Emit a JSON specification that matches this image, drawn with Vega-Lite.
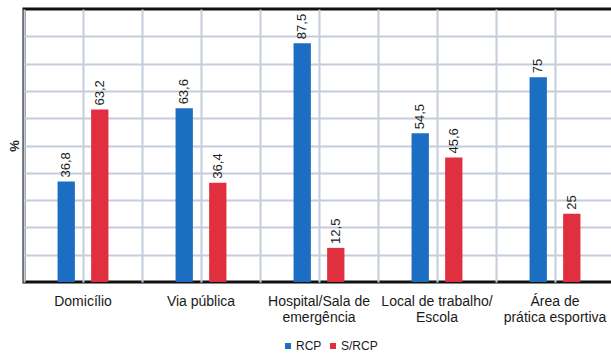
{
  "$schema": "https://vega.github.io/schema/vega-lite/v6.json",
  "autosize": "none",
  "padding": {"left": 24, "top": 9, "right": 0, "bottom": 72},
  "width": 590,
  "height": 273,
  "background": "white",
  "config": {
    "font": "Liberation Sans",
    "view": {"stroke": "#111111", "strokeWidth": 3},
    "locale": {"number": {"decimal": ",", "thousands": ".", "grouping": [3], "currency": ["R$", ""]}}
  },
  "data": {
    "values": [
      {"local": "Domicílio", "grupo": "RCP", "valor": 36.8},
      {"local": "Domicílio", "grupo": "S/RCP", "valor": 63.2},
      {"local": "Via pública", "grupo": "RCP", "valor": 63.6},
      {"local": "Via pública", "grupo": "S/RCP", "valor": 36.4},
      {"local": "Hospital/Sala de emergência", "grupo": "RCP", "valor": 87.5},
      {"local": "Hospital/Sala de emergência", "grupo": "S/RCP", "valor": 12.5},
      {"local": "Local de trabalho/Escola", "grupo": "RCP", "valor": 54.5},
      {"local": "Local de trabalho/Escola", "grupo": "S/RCP", "valor": 45.6},
      {"local": "Área de prática esportiva", "grupo": "RCP", "valor": 75},
      {"local": "Área de prática esportiva", "grupo": "S/RCP", "valor": 25}
    ]
  },
  "encoding": {
    "x": {"field": "local", "type": "nominal", "sort": null, "scale": {"paddingInner": 0, "paddingOuter": 0}},
    "xOffset": {"field": "grupo", "type": "nominal", "scale": {"paddingInner": 0.484, "paddingOuter": 1.145}},
    "y": {"field": "valor", "type": "quantitative", "scale": {"domain": [0, 100]}}
  },
  "layer": [
    {
      "mark": {"type": "bar"},
      "encoding": {
        "x": {
          "field": "local", "type": "nominal", "sort": null,
          "axis": {
            "orient": "bottom", "title": null, "labelAngle": 0, "domain": false, "ticks": false,
            "grid": true, "bandPosition": 0.5, "tickBand": "center", "gridColor": "#c3cddb", "gridWidth": 2, "gridOpacity": 1,
            "labelFont": "Liberation Sans", "labelFontSize": 14, "labelColor": "#1a1a1a",
            "labelPadding": 12, "labelLineHeight": 16,
            "labelExpr": "datum.value == 'Hospital/Sala de emergência' ? ['Hospital/Sala de', 'emergência'] : datum.value == 'Local de trabalho/Escola' ? ['Local de trabalho/', 'Escola'] : datum.value == 'Área de prática esportiva' ? ['Área de', 'prática esportiva'] : datum.value"
          }
        },
        "y": {
          "field": "valor", "type": "quantitative", "scale": {"domain": [0, 100]},
          "axis": {
            "title": "%", "titleFontSize": 13, "titleFontWeight": "bold", "titleColor": "#222222",
            "titlePadding": 3, "labels": false, "ticks": false, "domain": false, "tickCount": 20,
            "grid": true, "values": [10, 20, 30, 40, 50, 60, 70, 80, 90], "gridColor": "#c3cddb", "gridWidth": 2, "gridOpacity": 1
          }
        },
        "color": {
          "field": "grupo", "type": "nominal",
          "scale": {"domain": ["RCP", "S/RCP"], "range": ["#1b6ec2", "#e0303f"]},
          "legend": {
            "title": null, "orient": "none", "legendX": 258, "legendY": 331, "direction": "horizontal", "symbolType": "square",
            "symbolSize": 36, "labelFontSize": 12, "labelColor": "#1a1a1a", "columnPadding": 5,
            "labelOffset": 2, "padding": 0, "symbolStrokeWidth": 0
          }
        }
      }
    },
    {
      "mark": {"type": "text", "angle": 270, "align": "left", "baseline": "middle", "dx": 4, "fontSize": 13, "color": "#1a1a1a"},
      "encoding": {
        "x": {
          "field": "local", "type": "nominal", "sort": null,
          "axis": {
            "orient": "top", "title": null, "labels": false, "ticks": false, "domain": false,
            "grid": true, "bandPosition": 0, "tickBand": "extent", "gridColor": "#c3cddb", "gridWidth": 2, "gridOpacity": 1
          }
        },
        "text": {"field": "valor", "type": "quantitative"}
      }
    }
  ],
  "resolve": {"axis": {"x": "independent"}}
}
